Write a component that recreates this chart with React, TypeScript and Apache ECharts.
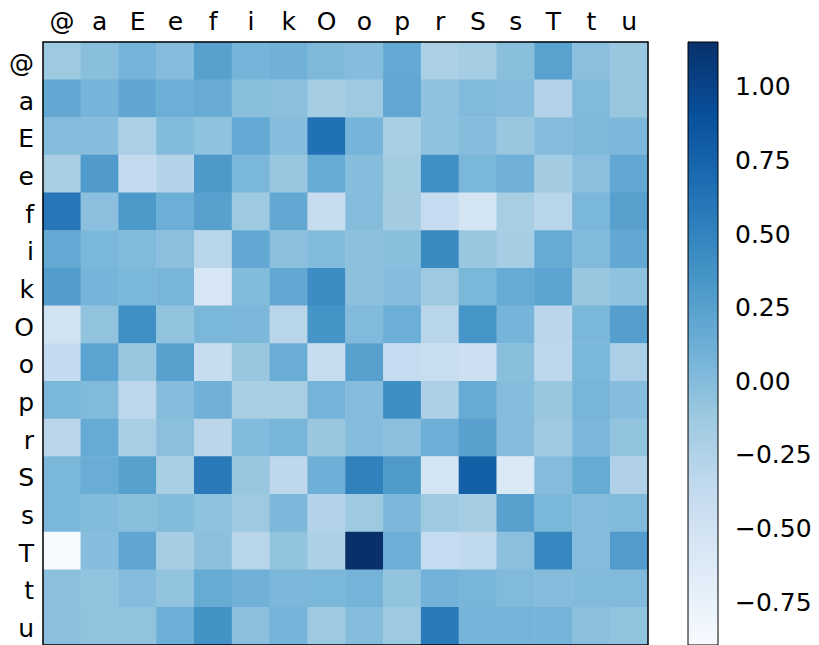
import React, { useEffect, useRef } from "react";
import * as echarts from "echarts";

const LABELS = ["@", "a", "E", "e", "f", "i", "k", "O", "o", "p", "r", "S", "s", "T", "t", "u"];

const rowAt = [-0.12, -0.02, 0.08, 0.0, 0.25, 0.07, 0.1, 0.03, -0.01, 0.17, -0.22, -0.17, -0.02, 0.24, -0.03, -0.1];
const rowA = [0.18, 0.07, 0.2, 0.13, 0.15, -0.02, -0.03, -0.17, -0.13, 0.19, -0.05, 0.02, -0.01, -0.25, 0.02, -0.1];
const rowEE = [0.0, -0.01, -0.21, 0.01, -0.05, 0.17, -0.01, 0.64, 0.07, -0.19, -0.05, 0.0, -0.1, 0.0, 0.03, 0.04];
const rowE = [-0.2, 0.3, -0.37, -0.27, 0.32, 0.05, -0.1, 0.16, -0.01, -0.15, 0.4, 0.05, 0.1, -0.16, -0.03, 0.18];
const rowF = [0.6, -0.03, 0.32, 0.13, 0.25, -0.13, 0.18, -0.4, 0.0, -0.16, -0.38, -0.52, -0.19, -0.3, 0.05, 0.25];
const rowI = [0.17, 0.05, 0.02, -0.03, -0.3, 0.18, -0.03, 0.01, -0.04, -0.02, 0.45, -0.1, -0.17, 0.16, 0.02, 0.18];
const rowK = [0.28, 0.07, 0.05, 0.06, -0.58, 0.01, 0.19, 0.42, -0.04, -0.01, -0.13, 0.05, 0.16, 0.23, -0.1, -0.05];
const rowOO = [-0.5, -0.06, 0.4, -0.07, 0.05, 0.04, -0.3, 0.37, 0.02, 0.13, -0.3, 0.36, 0.07, -0.31, 0.05, 0.27];
const rowO = [-0.37, 0.23, -0.1, 0.26, -0.4, -0.1, 0.14, -0.4, 0.25, -0.38, -0.42, -0.46, -0.02, -0.33, 0.05, -0.21];
const rowP = [0.05, 0.02, -0.32, 0.0, 0.1, -0.19, -0.19, 0.08, 0.0, 0.41, -0.22, 0.16, -0.01, -0.1, 0.06, -0.01];
const rowR = [-0.31, 0.16, -0.19, -0.03, -0.31, 0.02, 0.06, -0.1, -0.01, -0.03, 0.12, 0.25, 0.0, -0.13, 0.04, -0.07];
const rowSS = [0.05, 0.14, 0.26, -0.19, 0.57, -0.1, -0.33, 0.12, 0.52, 0.31, -0.52, 0.78, -0.6, 0.0, 0.16, -0.24];
const rowS = [0.05, 0.01, -0.02, 0.01, -0.05, -0.12, 0.04, -0.26, -0.13, 0.04, -0.13, -0.17, 0.25, 0.05, 0.0, 0.02];
const rowTT = [-0.895, -0.01, 0.2, -0.17, -0.04, -0.3, -0.07, -0.22, 1.152, 0.12, -0.38, -0.35, -0.03, 0.47, -0.01, 0.29];
const rowT = [-0.03, -0.07, 0.0, -0.06, 0.16, 0.1, 0.04, 0.05, 0.08, -0.07, 0.09, 0.06, 0.02, 0.0, 0.01, 0.02];
const rowU = [-0.03, -0.06, -0.06, 0.12, 0.38, -0.03, 0.08, -0.13, 0.0, -0.13, 0.57, 0.07, 0.08, 0.08, -0.03, -0.06];

const ROWS = [rowAt, rowA, rowEE, rowE, rowF, rowI, rowK, rowOO, rowO, rowP, rowR, rowSS, rowS, rowTT, rowT, rowU];

const COLORBAR_TICKS = [-0.75, -0.5, -0.25, 0, 0.25, 0.5, 0.75, 1.0];

const BLUES = ["#f7fbff", "#deebf7", "#c6dbef", "#9ecae1", "#6baed6", "#4292c6", "#2171b5", "#08519c", "#08306b"];

const FONT = "DejaVu Sans";
const FS = 25;

export default function App() {
  const ref = useRef<HTMLDivElement>(null);

  useEffect(() => {
    document.body.style.margin = "0";
    if (!ref.current) return;
    const chart = echarts.init(ref.current, undefined, { renderer: "svg" });

    const all = ROWS.flat();
    const dMin = Math.min(...all);
    const dMax = Math.max(...all);

    const data: number[][] = [];
    ROWS.forEach((row, r) => row.forEach((v, c) => data.push([c, r, v])));

    const stops = BLUES.map((color, i) => ({ offset: i / (BLUES.length - 1), color }));

    chart.setOption({
      animation: false,
      backgroundColor: "#ffffff",
      textStyle: { fontFamily: FONT },
      grid: [
        { left: 43, top: 42, width: 605, height: 606, show: true, z: 5, borderColor: "#000", borderWidth: 1.5, backgroundColor: "transparent" },
        { left: 688, top: 42, width: 30, height: 606, show: true, z: 5, borderColor: "#000", borderWidth: 1, backgroundColor: "transparent" },
      ],
      xAxis: [
        {
          type: "category",
          gridIndex: 0,
          position: "top",
          data: LABELS,
          axisLine: { show: false },
          axisTick: { show: false },
          splitLine: { show: false },
          axisLabel: { fontSize: FS, color: "#000", margin: 8, fontFamily: FONT, interval: 0 },
        },
        { type: "value", gridIndex: 1, min: 0, max: 1, show: false },
      ],
      yAxis: [
        {
          type: "category",
          gridIndex: 0,
          inverse: true,
          data: LABELS,
          axisLine: { show: false },
          axisTick: { show: false },
          splitLine: { show: false },
          axisLabel: {
            fontSize: FS,
            color: "#000",
            margin: 9,
            fontFamily: FONT,
            interval: 0,
            formatter: (v: string) => "{l|" + v + "}",
            rich: { l: { fontSize: FS, color: "#000", fontFamily: FONT, padding: [5, 0, 0, 0] } },
          },
        },
        {
          type: "value",
          gridIndex: 1,
          position: "right",
          min: dMin,
          max: dMax,
          splitLine: { show: false },
          axisLine: { show: true, lineStyle: { color: "#000", width: 1 } },
          axisTick: { show: true, length: 7, lineStyle: { color: "#000", width: 1 }, customValues: COLORBAR_TICKS },
          axisLabel: {
            fontSize: FS,
            color: "#000",
            margin: 17,
            fontFamily: FONT,
            customValues: COLORBAR_TICKS,
            formatter: (v: number) => (v < 0 ? "\u2212" : "") + Math.abs(v).toFixed(2),
          },
        },
      ],
      visualMap: {
        type: "continuous",
        show: false,
        seriesIndex: 0,
        dimension: 2,
        min: dMin,
        max: dMax,
        inRange: { color: BLUES },
      },
      series: [
        {
          type: "heatmap",
          xAxisIndex: 0,
          yAxisIndex: 0,
          data,
          emphasis: { disabled: true },
          itemStyle: { borderWidth: 0 },
        },
        {
          type: "custom",
          xAxisIndex: 1,
          yAxisIndex: 1,
          data: [[0, dMin, 1, dMax]],
          renderItem: (params: any, api: any) => {
            const p0 = api.coord([api.value(0), api.value(3)]);
            const p1 = api.coord([api.value(2), api.value(1)]);
            return {
              type: "rect",
              shape: { x: p0[0], y: p0[1], width: p1[0] - p0[0], height: p1[1] - p0[1] },
              style: { fill: new echarts.graphic.LinearGradient(0, 1, 0, 0, stops) },
            };
          },
        },
      ],
    });

    return () => chart.dispose();
  }, []);

  return <div ref={ref} style={{ width: 819, height: 645 }} />;
}
